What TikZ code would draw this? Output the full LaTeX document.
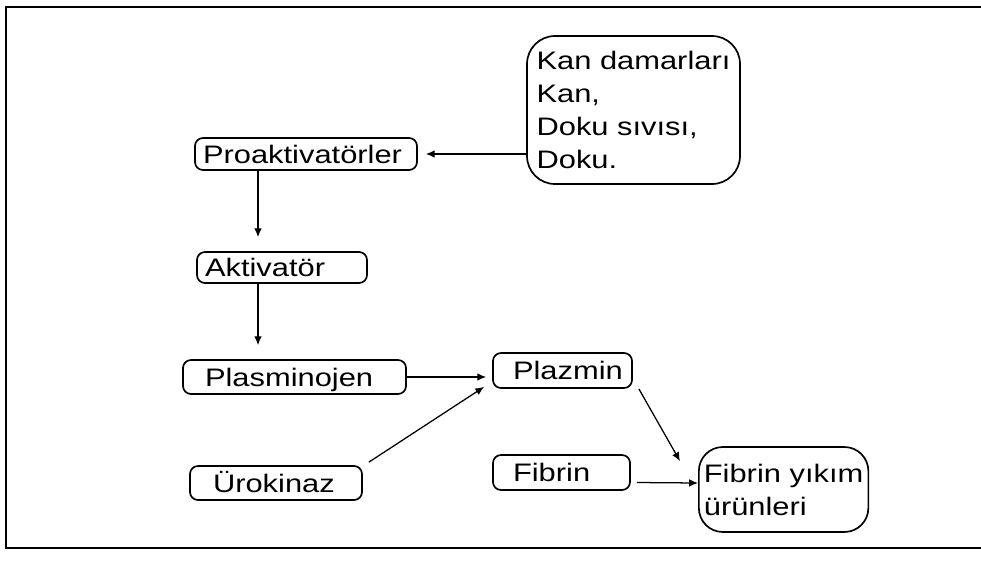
\documentclass[tikz,border=0pt]{standalone}
\usepackage{fontspec}
\setmainfont{Liberation Sans}[FakeStretch=1.22]
\usetikzlibrary{arrows.meta}

\begin{document}
\begin{tikzpicture}[
  x=0.25mm, y=-0.25mm,
  font=\fontsize{18}{23.5}\selectfont,
  box/.style={draw, line width=1.2pt, rounded corners=2mm, align=left, inner ysep=0pt,
    text height=13pt, text depth=0pt},
  bigbox/.style={draw, line width=1.2pt, rounded corners=7mm, align=left},
  arr/.style={-{Latex[length=2.2mm, width=1.9mm]}, line width=0.9pt},
]
\def\pxl{0.25mm}
\useasboundingbox (0,0) rectangle (981,578);
% frame
\draw[line width=1.4pt] (990,7) -- (6,7) -- (6,548) -- (990,548);

\node[bigbox, minimum width=213*\pxl, minimum height=148*\pxl, inner xsep=4*\pxl] (kan) at (633.5,110)
  {Kan damarları\\Kan,\\Doku sıvısı,\\Doku.};
\node[box, minimum height=32*\pxl, inner xsep=8*\pxl, text width=206*\pxl] (proak) at (306,154) {Proaktivatörler};
\node[box, minimum height=31*\pxl, inner xsep=8*\pxl, text width=154*\pxl] (akt) at (282,267.5) {Aktivatör};
\node[box, minimum height=34*\pxl, inner xsep=22*\pxl, text width=179*\pxl] (plasm) at (294.5,377) {Plasminojen};
\node[box, minimum height=35*\pxl, inner xsep=20*\pxl, text width=99*\pxl] (plaz) at (562.5,370.5) {Plazmin};
\node[box, minimum height=34*\pxl, inner xsep=23*\pxl, text width=126*\pxl] (urok) at (276,483) {Ürokinaz};
\node[box, minimum height=35*\pxl, inner xsep=20*\pxl, text width=97*\pxl] (fib) at (561.5,472.5) {Fibrin};
\node[bigbox, rounded corners=6mm, minimum height=85*\pxl, inner xsep=5*\pxl, anchor=west] (fyu) at (698,489.5)
  {Fibrin yıkım\\ürünleri};

% connectors
\draw[arr] (kan.west |- proak) -- ([xshift=8*\pxl]proak.east);
\draw[arr] ([xshift=-48*\pxl]proak.south) -- ([xshift=-24*\pxl, yshift=14*\pxl]akt.north);
\draw[arr] ([xshift=-24*\pxl]akt.south) -- ([xshift=-36.5*\pxl, yshift=14*\pxl]plasm.north);
\draw[arr] (plasm.east) -- ([xshift=-6*\pxl]plaz.west |- plasm.east);
\draw[arr] ([shift={(6,-3)}]urok.north east) -- ([shift={(-8,-2)}]plaz.south west);
\draw[arr] ([shift={(6,0)}]plaz.south east) -- ([shift={(-18,15)}]fyu.north west);
\draw[arr] ([shift={(6,10)}]fib.east) -- ([shift={(0,-6.5)}]fyu.west);
\end{tikzpicture}
\end{document}
